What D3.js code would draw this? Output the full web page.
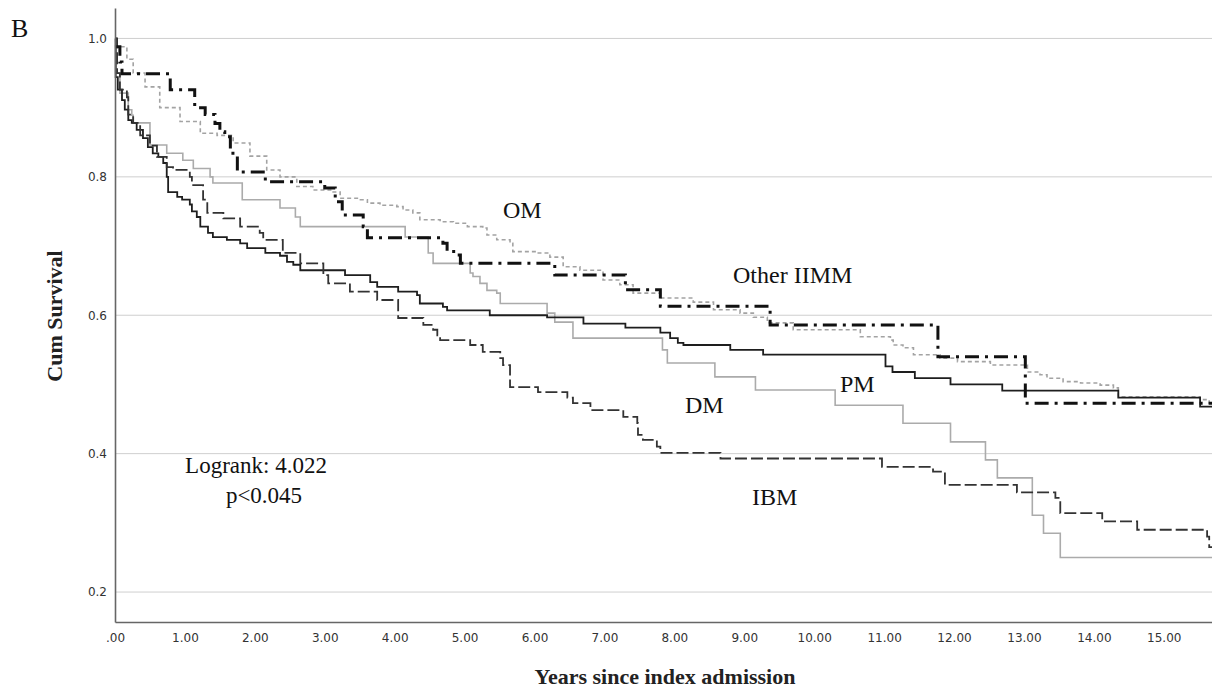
<!DOCTYPE html>
<html>
<head>
<meta charset="utf-8">
<script src="https://cdn.jsdelivr.net/npm/d3@7"></script>
<style>
  html, body { margin: 0; padding: 0; background: #fff; }
  svg { display: block; }
</style>
</head>
<body>
<svg id="chart" width="1212" height="689"></svg>
<script>
// ---- data (years, cumulative survival) ----
const xTicks = [0,1,2,3,4,5,6,7,8,9,10,11,12,13,14,15];
const yTicks = [0.2,0.4,0.6,0.8,1.0];
const maxYears = 15.69;

const omSteps = [[0,1.0],[0.01,0.988],[0.17,0.97],[0.26,0.95],[0.43,0.93],[0.64,0.90],[0.93,0.88],[1.22,0.863],[1.46,0.86],[1.69,0.849],[1.93,0.83],[2.17,0.81],[2.36,0.80],[2.60,0.786],[2.83,0.781],[3.12,0.778],[3.22,0.769],[3.51,0.767],[3.61,0.762],[3.79,0.759],[4.03,0.757],[4.12,0.752],[4.26,0.748],[4.36,0.738],[4.65,0.735],[4.84,0.733],[5.04,0.728],[5.26,0.726],[5.32,0.716],[5.46,0.709],[5.65,0.704],[5.69,0.692],[6.04,0.69],[6.22,0.684],[6.41,0.67],[6.65,0.665],[6.98,0.651],[7.22,0.644],[7.41,0.632],[7.80,0.625],[8.27,0.619],[8.56,0.608],[8.94,0.603],[9.13,0.597],[9.33,0.589],[9.70,0.579],[10.66,0.569],[11.09,0.564],[11.13,0.557],[11.27,0.553],[11.42,0.543],[11.80,0.538],[12.05,0.533],[12.52,0.528],[13.05,0.518],[13.23,0.514],[13.33,0.509],[13.56,0.504],[13.81,0.502],[14.09,0.499],[14.28,0.495],[14.35,0.482],[15.52,0.478],[15.65,0.473]];

const otherSteps = [[0,0.988],[0.07,0.966],[0.10,0.949],[0.79,0.926],[1.14,0.90],[1.29,0.89],[1.43,0.877],[1.50,0.865],[1.57,0.858],[1.65,0.834],[1.75,0.807],[2.15,0.793],[3.00,0.784],[3.15,0.764],[3.25,0.745],[3.55,0.728],[3.61,0.712],[4.69,0.704],[4.75,0.692],[4.89,0.687],[4.94,0.675],[6.29,0.658],[7.30,0.637],[7.80,0.613],[9.37,0.586],[11.77,0.54],[13.02,0.473]];

const pmSteps = [[0,1.0],[0.01,0.944],[0.04,0.926],[0.10,0.911],[0.14,0.897],[0.19,0.882],[0.24,0.878],[0.31,0.868],[0.40,0.856],[0.47,0.843],[0.54,0.834],[0.62,0.829],[0.69,0.82],[0.74,0.80],[0.76,0.778],[0.89,0.771],[0.96,0.767],[1.07,0.76],[1.10,0.75],[1.17,0.742],[1.22,0.728],[1.33,0.719],[1.40,0.713],[1.60,0.709],[1.79,0.704],[1.89,0.697],[2.15,0.69],[2.36,0.686],[2.46,0.677],[2.55,0.673],[2.65,0.665],[3.29,0.658],[3.65,0.648],[3.75,0.641],[4.05,0.634],[4.32,0.629],[4.36,0.617],[4.69,0.612],[4.75,0.607],[5.36,0.60],[6.18,0.597],[6.70,0.588],[7.30,0.582],[7.80,0.575],[7.94,0.567],[8.05,0.56],[8.13,0.557],[8.80,0.55],[9.27,0.543],[11.02,0.526],[11.12,0.518],[11.44,0.509],[11.95,0.50],[12.69,0.491],[14.35,0.481],[15.52,0.468]];

const ibmSteps = [[0,1.0],[0.03,0.95],[0.07,0.926],[0.17,0.915],[0.19,0.89],[0.26,0.878],[0.36,0.86],[0.50,0.845],[0.60,0.829],[0.74,0.814],[0.83,0.81],[1.07,0.80],[1.10,0.788],[1.26,0.767],[1.32,0.748],[1.55,0.74],[1.79,0.728],[2.07,0.719],[2.12,0.709],[2.40,0.69],[2.65,0.675],[2.98,0.658],[3.05,0.646],[3.36,0.634],[3.75,0.622],[4.05,0.596],[4.41,0.586],[4.55,0.579],[4.61,0.571],[4.65,0.564],[5.08,0.557],[5.26,0.547],[5.51,0.538],[5.55,0.528],[5.65,0.496],[6.05,0.489],[6.47,0.481],[6.55,0.473],[6.80,0.463],[7.27,0.453],[7.47,0.444],[7.48,0.427],[7.55,0.42],[7.75,0.41],[7.80,0.401],[8.66,0.393],[10.97,0.381],[11.70,0.374],[11.87,0.355],[12.90,0.344],[13.45,0.336],[13.52,0.314],[14.12,0.302],[14.62,0.29],[15.62,0.28],[15.65,0.265]];

const dmSteps = [[0,1.0],[0.01,0.95],[0.07,0.921],[0.19,0.897],[0.24,0.889],[0.26,0.878],[0.50,0.846],[0.74,0.834],[0.97,0.824],[1.12,0.812],[1.36,0.80],[1.40,0.791],[1.82,0.767],[2.36,0.755],[2.58,0.742],[2.65,0.728],[4.15,0.713],[4.48,0.69],[4.55,0.675],[5.08,0.661],[5.12,0.656],[5.22,0.646],[5.32,0.636],[5.46,0.632],[5.51,0.617],[6.18,0.603],[6.29,0.59],[6.55,0.567],[7.83,0.55],[7.90,0.531],[8.58,0.511],[9.16,0.492],[10.30,0.47],[11.27,0.444],[11.95,0.417],[12.45,0.391],[12.62,0.365],[13.12,0.311],[13.28,0.285],[13.52,0.25]];

const seriesNames = ["DM","OM","PM","IBM","Other IIMM"];
const groupLabels = ["OM","Other IIMM","PM","DM","IBM"];
const statLines = ["Logrank: 4.022","p<0.045"];

// ---- layout ----
const svg = d3.select("#chart");
const x = d3.scaleLinear().domain([0, maxYears]).range([115, 1212]);
const y = d3.scaleLinear().domain([0.1567, 1.044]).range([622, 8]);

// gridlines
svg.append("g").selectAll("line").data(yTicks).join("line")
  .attr("x1", x(0)).attr("x2", x(maxYears))
  .attr("y1", d => y(d)).attr("y2", d => y(d))
  .attr("stroke", "#cfcfcf").attr("stroke-width", 1);

// series
const styles = {
  "DM":         {data: dmSteps,    stroke: "#ababab", width: 1.6, dash: null},
  "OM":         {data: omSteps,    stroke: "#a3a3a3", width: 1.6, dash: "4,3"},
  "PM":         {data: pmSteps,    stroke: "#1e1e1e", width: 1.8, dash: null},
  "IBM":        {data: ibmSteps,   stroke: "#333333", width: 1.8, dash: "12,4"},
  "Other IIMM": {data: otherSteps, stroke: "#111111", width: 3,   dash: "14,6,3,6"}
};
const line = d3.line().x(d => x(d[0])).y(d => y(d[1])).curve(d3.curveStepAfter);
seriesNames.forEach(name => {
  const s = styles[name];
  const pts = s.data.concat([[maxYears, s.data[s.data.length - 1][1]]]);
  svg.append("path").datum(pts)
    .attr("fill", "none")
    .attr("stroke", s.stroke)
    .attr("stroke-width", s.width)
    .attr("stroke-dasharray", s.dash)
    .attr("d", line);
});

// axes
const xAxis = d3.axisBottom(x).tickValues(xTicks)
  .tickFormat(d => d === 0 ? ".00" : d.toFixed(2))
  .tickSize(0).tickPadding(11);
const yAxis = d3.axisLeft(y).tickValues(yTicks)
  .tickFormat(d3.format(".1f")).tickSize(0).tickPadding(8);

const gx = svg.append("g").attr("transform", "translate(0,622)").call(xAxis);
const gy = svg.append("g").attr("transform", "translate(115,0)").call(yAxis);
[gx, gy].forEach(g => {
  g.select(".domain").attr("stroke", "#666").attr("stroke-width", 1.6);
  g.selectAll("text").attr("font-family", "'DejaVu Sans', sans-serif")
    .attr("font-size", 12).attr("fill", "#333");
});

// axis titles
svg.append("text")
  .attr("x", 665).attr("y", 684)
  .attr("text-anchor", "middle")
  .attr("font-family", "'Liberation Serif', serif")
  .attr("font-weight", "bold").attr("font-size", 22).attr("fill", "#222")
  .text("Years since index admission");

svg.append("text")
  .attr("transform", "translate(62,316) rotate(-90)")
  .attr("text-anchor", "middle")
  .attr("font-family", "'Liberation Serif', serif")
  .attr("font-weight", "bold").attr("font-size", 22).attr("fill", "#222")
  .text("Cum Survival");

// panel letter
svg.append("text").attr("x", 11).attr("y", 37)
  .attr("font-family", "'Liberation Serif', serif").attr("font-size", 26)
  .attr("fill", "#111").text("B");

// group labels
const labelPos = {"OM": [503, 218], "Other IIMM": [733, 283], "PM": [840, 392], "DM": [685, 413], "IBM": [752, 505]};
svg.append("g").selectAll("text").data(groupLabels).join("text")
  .attr("x", d => labelPos[d][0]).attr("y", d => labelPos[d][1])
  .attr("font-family", "'Liberation Serif', serif").attr("font-size", 24)
  .attr("fill", "#111").text(d => d);

// stats
svg.append("g").selectAll("text").data(statLines).join("text")
  .attr("x", (d, i) => i === 0 ? 256 : 264).attr("y", (d, i) => 473 + i * 30)
  .attr("text-anchor", "middle")
  .attr("font-family", "'Liberation Serif', serif").attr("font-size", 23)
  .attr("fill", "#111").text(d => d);
</script>
</body>
</html>
